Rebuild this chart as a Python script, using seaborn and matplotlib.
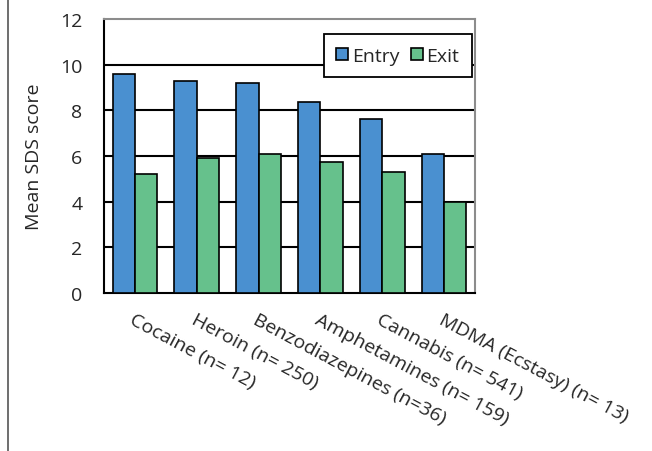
import pandas as pd
import matplotlib.pyplot as plt
import seaborn as sns
from matplotlib.lines import Line2D

# Daten
categories = ["Cocaine (n= 12)", "Heroin (n= 250)", "Benzodiazepines (n=36)",
              "Amphetamines (n= 159)", "Cannabis (n= 541)", "MDMA (Ecstasy) (n= 13)"]
entry_values = [9.6, 9.3, 9.2, 8.35, 7.6, 6.1]
exit_values = [5.2, 5.9, 6.1, 5.75, 5.3, 4.0]
series = ["Entry", "Exit"]
y_ticks = [0, 2, 4, 6, 8, 10, 12]

df = pd.DataFrame({
    "category": categories * 2,
    "series": [series[0]] * len(categories) + [series[1]] * len(categories),
    "value": entry_values + exit_values,
})

sns.set_style("white")
plt.rcParams["font.family"] = ["Open Sans", "DejaVu Sans"]

fig = plt.figure(figsize=(6.52, 4.52), dpi=100)
# Achsenbereich: x 104..475 px, y 20..294 px
ax = fig.add_axes([104 / 652, 1 - 294 / 452, (475 - 104) / 652, (294 - 20) / 452])

sns.barplot(data=df, x="category", y="value", hue="series",
            palette=["#4a90d0", "#66c18c"], edgecolor="black", linewidth=1.2,
            width=0.72, saturation=1, ax=ax, zorder=3)

ax.set_ylim(0, 12)
ax.set_xlim(-0.5, len(categories) - 0.5)
ax.set_yticks(y_ticks)
ax.set_yticklabels([str(t) for t in y_ticks], fontsize=14)
for t in y_ticks[1:-1]:
    ax.axhline(t, color="black", linewidth=1.5, zorder=1)

# Kategorie-Trennstriche wie bei Excel
ax.set_xticks([i - 0.5 for i in range(len(categories) + 1)], minor=True)
ax.tick_params(axis="x", which="minor", length=4.5, width=1.2, color="black", direction="out")
ax.tick_params(axis="x", which="major", length=0, pad=12)
ax.tick_params(axis="y", length=4.5, width=1.2, color="black", direction="out", pad=11)
ax.set_xticks(range(len(categories)))
ax.set_xticklabels(categories, rotation=-28, ha="left", va="top",
                   rotation_mode="anchor", fontsize=14)

ax.set_xlabel("")
ax.set_ylabel("Mean SDS score", fontsize=14, labelpad=12)

ax.spines["left"].set_color("black")
ax.spines["bottom"].set_color("black")
ax.spines["left"].set_linewidth(1.5)
ax.spines["bottom"].set_linewidth(1.5)
ax.spines["top"].set_color("#8c8c8c")
ax.spines["right"].set_color("#8c8c8c")
ax.spines["top"].set_linewidth(1.5)
ax.spines["right"].set_linewidth(1.5)

leg = ax.legend(loc="upper right", bbox_to_anchor=(0.992, 0.945), ncol=2, fontsize=14,
                frameon=True, fancybox=False, handlelength=0.6, handleheight=0.6,
                handletextpad=0.2, columnspacing=0.6, borderpad=0.65,
                borderaxespad=0, title=None)
leg.get_frame().set_edgecolor("black")
leg.get_frame().set_linewidth(1.3)
leg.get_frame().set_alpha(1)
leg.set_zorder(5)

# Linker Rahmenstrich der Abbildung
fig.add_artist(Line2D([8 / 652, 8 / 652], [0, 1], color="#555555", linewidth=1.2))

fig.savefig("out.png", dpi=100)
